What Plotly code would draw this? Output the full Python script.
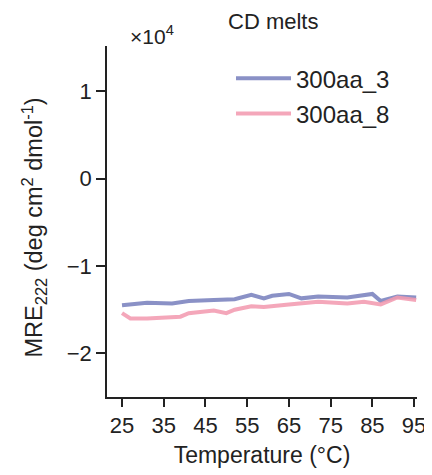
import plotly.graph_objects as go

# Temperature (°C) and MRE222 values (×10^4 deg cm^2 dmol^-1)
temp_3 = [25, 31, 37, 41, 47, 52, 56, 59, 61, 65, 68, 72, 79, 85, 87, 91, 95.5]
mre_3 = [-1.45, -1.42, -1.43, -1.40, -1.39, -1.38, -1.33, -1.37, -1.34, -1.32, -1.37, -1.35, -1.36, -1.32, -1.40, -1.35, -1.36]

temp_8 = [25, 27, 31, 39, 41, 47, 50, 52, 56, 59, 65, 72, 79, 83, 87, 91, 95.5]
mre_8 = [-1.54, -1.60, -1.60, -1.58, -1.54, -1.51, -1.54, -1.50, -1.46, -1.47, -1.44, -1.41, -1.43, -1.41, -1.44, -1.36, -1.39]

series_names = ["300aa_3", "300aa_8"]
x_ticks = [25, 35, 45, 55, 65, 75, 85, 95]
y_ticks = [-2, -1, 0, 1]

FONT = "Liberation Sans, Arial, sans-serif"

fig = go.Figure()
fig.add_trace(go.Scatter(x=temp_3, y=mre_3, mode="lines", name=series_names[0],
                         legendgroup="a",
                         line=dict(color="rgba(122,130,190,0.88)", width=4)))
fig.add_trace(go.Scatter(x=temp_8, y=mre_8, mode="lines", name=series_names[1],
                         legendgroup="b",
                         line=dict(color="rgba(242,155,176,0.88)", width=4)))

# page body has an 8px margin, so the figure is sized to fit the 432x475 window
fig.update_layout(
    width=424, height=467,
    margin=dict(l=99, r=15, t=38, b=78, autoexpand=False),
    paper_bgcolor="white", plot_bgcolor="white",
    font=dict(family=FONT, size=22, color="#222"),
    showlegend=True,
    legend=dict(x=0.40, y=0.971, xanchor="left", yanchor="top", itemwidth=55,
                bgcolor="rgba(0,0,0,0)", font=dict(size=24), tracegroupgap=1),
    annotations=[
        dict(text="CD melts", x=0.535, y=1.0, xref="paper", yref="paper",
             xanchor="center", yanchor="middle", yshift=25, showarrow=False,
             font=dict(size=22, family=FONT, color="#222")),
        dict(text="×10<sup>4</sup>", x=0.068, y=1.0, xref="paper", yref="paper",
             xanchor="left", yanchor="middle", yshift=11, showarrow=False,
             font=dict(size=21, family=FONT, color="#222")),
        dict(text="MRE<sub>222</sub> (deg cm<sup>2</sup> dmol<sup>-1</sup>)",
             x=0, y=0.5, xref="paper", yref="paper", xanchor="center", yanchor="middle",
             xshift=-73, yshift=-6, textangle=-90, showarrow=False,
             font=dict(size=23.5, family=FONT, color="#222")),
    ],
)

fig.update_xaxes(
    range=[21.4, 95.7], tickvals=x_ticks, ticktext=[str(v) for v in x_ticks],
    automargin=False,
    showline=True, linecolor="#222", linewidth=1.5, mirror=False,
    ticks="outside", ticklen=8, tickwidth=1.5, tickcolor="#222",
    showgrid=False, zeroline=False, tickfont=dict(size=22),
    title=dict(text="Temperature (°C)", font=dict(size=23, family=FONT), standoff=10),
)
fig.update_yaxes(
    range=[-2.5, 1.52], tickvals=y_ticks, automargin=False,
    showline=True, linecolor="#222", linewidth=1.5, mirror=False,
    ticks="outside", ticklen=9, tickwidth=1.5, tickcolor="#222",
    showgrid=False, zeroline=False, tickfont=dict(size=22),
)

fig.write_html("out.html")
